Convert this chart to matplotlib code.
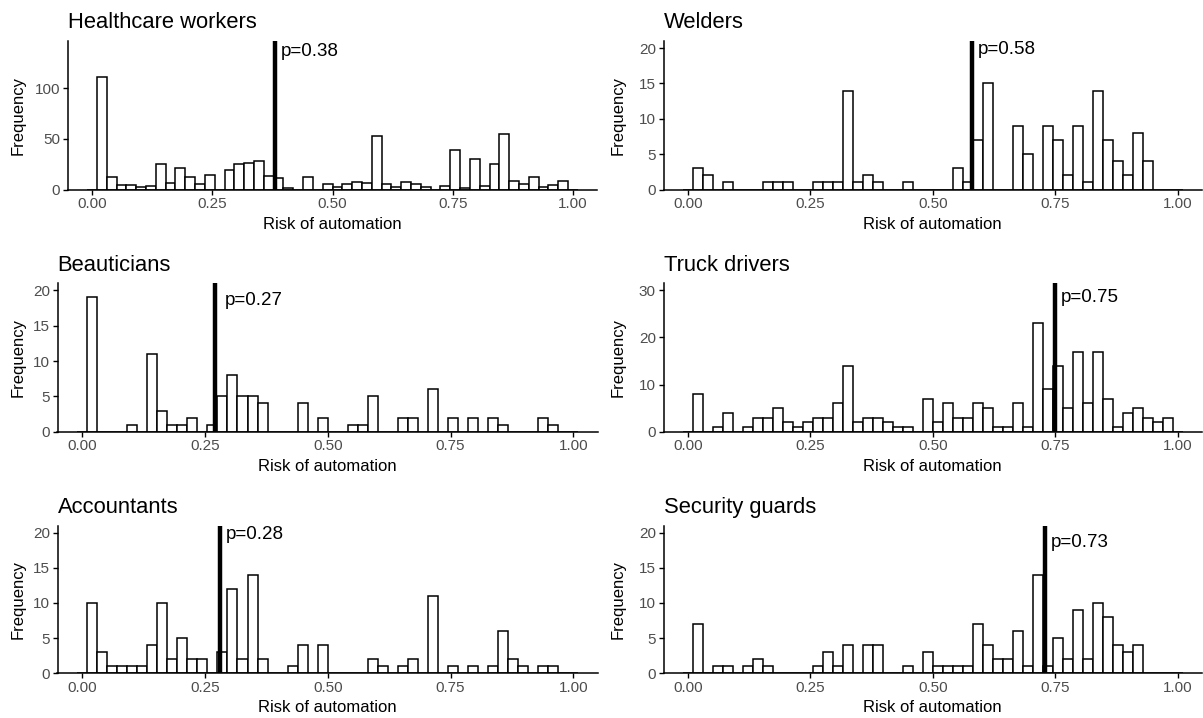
import matplotlib
matplotlib.use("Agg")
import matplotlib.pyplot as plt
import matplotlib.transforms as mtransforms
import numpy as np

plt.rcParams['font.family'] = ['Liberation Sans', 'DejaVu Sans']

# 50 bins of width 1/49 centred on k/49 (k = 0..49)
bin_centers = np.arange(50) / 49

titles = ['Healthcare workers', 'Welders', 'Beauticians',
          'Truck drivers', 'Accountants', 'Security guards']
p_values = [0.38, 0.58, 0.27, 0.75, 0.28, 0.73]

healthcare = [0, 111, 12, 4, 4, 2, 3, 25, 6, 21,
              12, 5, 14, 0, 19, 25, 26, 28, 13, 11,
              1, 0, 12, 0, 5, 2, 5, 7, 6, 53,
              5, 2, 7, 5, 2, 0, 3, 39, 1, 30,
              3, 25, 55, 8, 5, 12, 2, 4, 8, 0]
welders = [0, 3, 2, 0, 1, 0, 0, 0, 1, 1,
           1, 0, 0, 1, 1, 1, 14, 1, 2, 1,
           0, 0, 1, 0, 0, 0, 0, 3, 1, 7,
           15, 0, 0, 9, 5, 0, 9, 7, 2, 9,
           1, 14, 7, 4, 2, 8, 4, 0, 0, 0]
beauticians = [0, 19, 0, 0, 0, 1, 0, 11, 3, 1,
               1, 2, 0, 1, 5, 8, 5, 5, 4, 0,
               0, 0, 4, 0, 2, 0, 0, 1, 1, 5,
               0, 0, 2, 2, 0, 6, 0, 2, 0, 2,
               0, 2, 1, 0, 0, 0, 2, 1, 0, 0]
truck = [0, 8, 0, 1, 4, 0, 1, 3, 3, 5,
         2, 1, 2, 3, 3, 6, 14, 2, 3, 3,
         2, 1, 1, 0, 7, 2, 6, 3, 3, 6,
         5, 1, 1, 6, 1, 23, 9, 14, 5, 17,
         6, 17, 7, 1, 4, 5, 3, 2, 3, 0]
accountants = [0, 10, 3, 1, 1, 1, 1, 4, 10, 2,
               5, 2, 2, 0, 3, 12, 2, 14, 2, 0,
               0, 1, 4, 0, 4, 0, 0, 0, 0, 2,
               1, 0, 1, 2, 0, 11, 0, 1, 0, 1,
               0, 1, 6, 2, 1, 0, 1, 1, 0, 0]
security = [0, 7, 0, 1, 1, 0, 1, 2, 1, 0,
            0, 0, 0, 1, 3, 1, 4, 0, 4, 4,
            0, 0, 1, 0, 3, 1, 1, 1, 1, 7,
            4, 2, 2, 6, 1, 14, 1, 5, 2, 9,
            2, 10, 8, 4, 3, 4, 0, 0, 0, 0]
counts = [healthcare, welders, beauticians, truck, accountants, security]

y_max = [140, 20, 20, 30, 20, 20]
y_ticks = [[0, 50, 100], [0, 5, 10, 15, 20], [0, 5, 10, 15, 20],
           [0, 10, 20, 30], [0, 5, 10, 15, 20], [0, 5, 10, 15, 20]]
label_y = [137, 19.8, 18.6, 28.5, 19.7, 18.6]
label_dx = [0.012, 0.012, 0.021, 0.012, 0.012, 0.012]

W, H = 1203, 718
# axes boxes in pixels: left, top, right, bottom
boxes = [(68, 41, 597, 189.5), (663.5, 41, 1202, 189.5),
         (57.5, 283.3, 598, 431.7), (663.5, 283.3, 1202, 431.7),
         (57.5, 525.6, 598, 673.3), (663.5, 525.6, 1202, 673.3)]
ylab_x = [26, 626, 26, 626, 26, 626]

fig = plt.figure(figsize=(W / 100, H / 100), dpi=100)

for i in range(6):
    l, t, r, b = boxes[i]
    ax = fig.add_axes([l / W, 1 - b / H, (r - l) / W, (b - t) / H])
    ax.bar(bin_centers, counts[i], width=1 / 49, color='white',
           edgecolor='black', linewidth=1.1, zorder=2)
    ax.axvline(p_values[i], color='black', linewidth=3.2, zorder=3)
    ax.text(p_values[i] + label_dx[i], label_y[i], 'p=%.2f' % p_values[i],
            fontsize=13.5, va='center', ha='left', color='black')

    ax.set_xlim(-0.05, 1.05)
    ax.set_ylim(0, y_max[i] * 1.05)
    ax.set_xticks([0, 0.25, 0.5, 0.75, 1.0])
    ax.set_xticklabels(['0.00', '0.25', '0.50', '0.75', '1.00'])
    ax.set_yticks(y_ticks[i])

    for s in ['top', 'right']:
        ax.spines[s].set_visible(False)
    for s in ['left', 'bottom']:
        ax.spines[s].set_linewidth(1.1)
    ax.tick_params(length=3.5, width=1.0, color='black', labelsize=11,
                   labelcolor='#4D4D4D', pad=2)

    ax.set_title(titles[i], loc='left', fontsize=15.8, pad=9)
    ax.set_xlabel('Risk of automation', fontsize=12, labelpad=4)
    ax.set_ylabel('Frequency', fontsize=12)
    trans = mtransforms.blended_transform_factory(fig.transFigure, ax.transAxes)
    ax.yaxis.set_label_coords(ylab_x[i] / W, 0.5, transform=trans)

fig.savefig('out.png', dpi=100)
